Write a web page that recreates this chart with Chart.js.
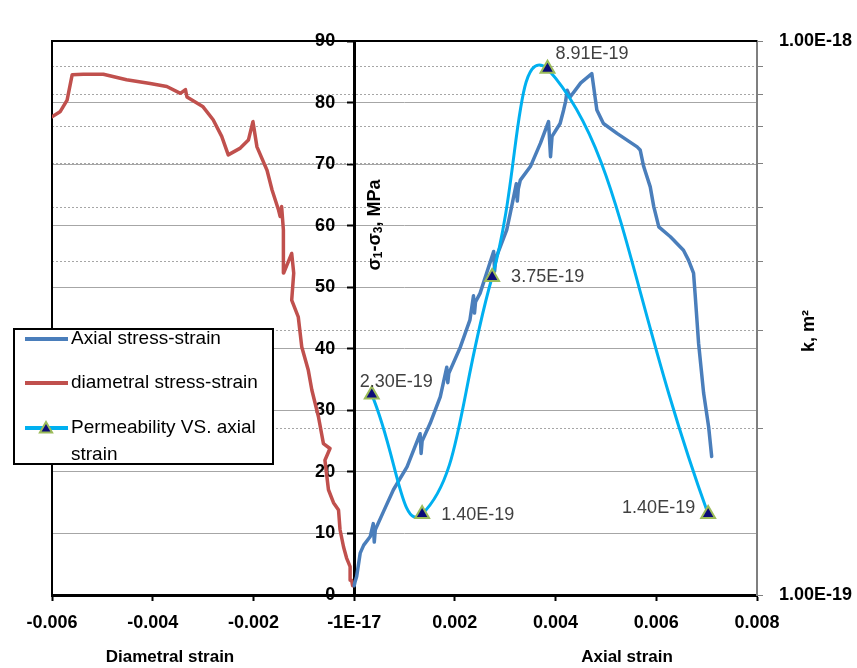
<!DOCTYPE html>
<html>
<head>
<meta charset="utf-8">
<script src="https://cdn.jsdelivr.net/npm/chart.js@4.4.0/dist/chart.umd.min.js"></script>
<style>
  html, body { margin: 0; padding: 0; background: #fff; }
</style>
</head>
<body>
<canvas id="chart" width="857" height="668"></canvas>
<script>
// axial stress-strain curve (strain, MPa)
const axialStrain = [0, 0.00002, 0.00005, 0.00012, 0.00019, 0.00032, 0.00038, 0.0004, 0.00042,
  0.00058, 0.00078, 0.00105, 0.00131, 0.00133, 0.00135, 0.00151, 0.00171, 0.00184, 0.00186, 0.00188,
  0.00211, 0.0023, 0.00237, 0.00239, 0.00241, 0.0025, 0.00277, 0.00279, 0.00281, 0.00303, 0.0031,
  0.00322, 0.00324, 0.00326, 0.0033, 0.0035, 0.0037, 0.00386, 0.0039, 0.00393, 0.00409, 0.00416,
  0.0042, 0.00423, 0.00429, 0.0045, 0.00472, 0.00482, 0.00495, 0.00522, 0.00562, 0.00568, 0.00575,
  0.00588, 0.00595, 0.00605, 0.00628, 0.00654, 0.00664, 0.00674, 0.00677, 0.00684, 0.00694, 0.00704, 0.0071];
const axialStress = [1.5, 2.2, 3.0, 6.8, 8.1, 9.5, 11.6, 8.6, 10.6,
  13.5, 17.1, 20.8, 26.2, 23.0, 25.0, 27.9, 32.2, 37.0, 34.5, 36.0,
  40.3, 44.7, 48.6, 45.8, 47.6, 49.0, 55.8, 52.6, 54.6, 59.3, 62.0,
  66.8, 64.0, 66.0, 67.4, 69.6, 73.4, 76.9, 71.2, 74.5, 76.6, 78.8,
  80.2, 82.0, 80.9, 83.2, 84.7, 78.8, 76.6, 75.0, 72.8, 72.3, 69.6,
  66.3, 63.1, 59.8, 58.2, 56.0, 54.4, 52.3, 49.0, 40.9, 32.8, 27.3, 22.5];

// diametral stress-strain curve (strain, MPa)
const diametralStrain = [-0.00003, -0.00005, -0.00008, -0.00008, -0.00015, -0.00021, -0.00028, -0.00031,
  -0.00041, -0.00051, -0.00058, -0.00048, -0.00061, -0.00071, -0.00084, -0.00091, -0.00104, -0.00111,
  -0.00124, -0.0012, -0.00124, -0.0014, -0.00141, -0.0014, -0.00144, -0.00147, -0.0015, -0.00163,
  -0.00173, -0.00193, -0.00201, -0.0021, -0.00226, -0.0025, -0.00263, -0.0028, -0.003, -0.00332,
  -0.00335, -0.00345, -0.00372, -0.00405, -0.00452, -0.00498, -0.00538, -0.0056, -0.0057, -0.00584, -0.006];
const diametralStress = [1.5, 2.4, 2.4, 4.6, 6.0, 7.8, 10.6, 13.8,
  15.0, 17.1, 21.9, 23.8, 24.6, 29.0, 33.3, 36.5, 40.3, 45.2,
  47.9, 52.3, 55.5, 52.3, 57.0, 59.3, 63.1, 61.5, 62.5, 65.8,
  69.0, 72.8, 76.9, 73.9, 72.6, 71.5, 74.5, 77.2, 79.3, 80.9,
  82.1, 81.5, 82.6, 83.1, 83.7, 84.6, 84.6, 84.5, 80.4, 78.5, 77.7];

// permeability measurements (strain, m2)
const permStrain = [0.00035, 0.00135, 0.00274, 0.00384, 0.00703];
const permK = [2.30e-19, 1.40e-19, 3.75e-19, 8.91e-19, 1.40e-19];

// axis ticks
const xTickValues = [-0.006, -0.004, -0.002, 0, 0.002, 0.004, 0.006, 0.008];
const xTickLabels = ['-0.006', '-0.004', '-0.002', '-1E-17', '0.002', '0.004', '0.006', '0.008'];
const kTickValues = [1e-19, 2e-19, 3e-19, 4e-19, 5e-19, 6e-19, 7e-19, 8e-19, 9e-19, 1e-18];
const kTickLabels = ['1.00E-19', '', '', '', '', '', '', '', '', '1.00E-18'];

const FONT = '"Liberation Sans", Arial, sans-serif';
const AXIAL_COLOR = '#4A7EBB';
const DIAM_COLOR = '#C0504D';
const PERM_COLOR = '#00B0F0';
const MARK_FILL = '#0C0C78';
const MARK_EDGE = '#9BBB59';

// where each permeability value label sits relative to its marker
const permLabelPlace = [
  { dx: -12, dy: -13, align: 'left' },
  { dx: 19, dy: 1, align: 'left' },
  { dx: 19, dy: 0, align: 'left' },
  { dx: 8, dy: -15, align: 'left' },
  { dx: -13, dy: -6, align: 'right' }
];

const pairs = (xs, ys) => xs.map((x, i) => ({ x: x, y: ys[i] }));

function triangle(ctx, x, y, r) {
  ctx.beginPath();
  ctx.moveTo(x, y - r);
  ctx.lineTo(x + r * 0.87, y + r * 0.5);
  ctx.lineTo(x - r * 0.87, y + r * 0.5);
  ctx.closePath();
  ctx.fillStyle = MARK_FILL;
  ctx.fill();
  ctx.lineWidth = 2;
  ctx.strokeStyle = MARK_EDGE;
  ctx.stroke();
}

// text drawn in pieces so subscripts can be lowered
function drawPieces(ctx, pieces, cx, cy) {
  let total = 0;
  pieces.forEach(p => {
    ctx.font = p.font;
    total += ctx.measureText(p.t).width;
  });
  let x = cx - total / 2;
  pieces.forEach(p => {
    ctx.font = p.font;
    ctx.fillText(p.t, x, cy + (p.dy || 0));
    x += ctx.measureText(p.t).width;
  });
}

// the stress axis sits at strain 0; its labels need to clear the tick marks
function shiftStressLabels(scale) {
  if (scale._labelsShifted) return;
  const compute = scale._computeLabelItems;
  scale._computeLabelItems = function (area) {
    const items = compute.call(this, area);
    items.forEach(it => { it.options.translation[0] -= 19; });
    return items;
  };
  scale._labelsShifted = true;
}

const overlay = {
  id: 'overlay',
  beforeDatasetsDraw(chart) {
    const { ctx, chartArea: a } = chart;
    ctx.save();
    ctx.strokeStyle = '#000';
    ctx.lineWidth = 2;
    ctx.beginPath();
    ctx.moveTo(a.left, a.bottom);
    ctx.lineTo(a.left, a.top);
    ctx.lineTo(a.right, a.top);
    ctx.stroke();
    ctx.restore();
  },
  afterDatasetsDraw(chart) {
    const { ctx } = chart;
    const meta = chart.getDatasetMeta(2);
    ctx.save();
    ctx.font = '18px ' + FONT;
    ctx.fillStyle = '#404040';
    ctx.textBaseline = 'middle';
    meta.data.forEach((pt, i) => {
      const place = permLabelPlace[i];
      ctx.textAlign = place.align;
      ctx.fillText(permK[i].toExponential(2).toUpperCase(), pt.x + place.dx, pt.y + place.dy);
    });
    ctx.restore();
  },
  afterDraw(chart) {
    const { ctx } = chart;
    ctx.save();
    ctx.fillStyle = '#000';
    ctx.textBaseline = 'middle';
    ctx.textAlign = 'center';

    // axis titles
    ctx.font = 'bold 17px ' + FONT;
    ctx.fillText('Diametral strain', 170, 657);
    ctx.fillText('Axial strain', 627, 657);

    ctx.save();
    ctx.translate(375, 225);
    ctx.rotate(-Math.PI / 2);
    ctx.textAlign = 'left';
    const big = 'bold 18px ' + FONT;
    const small = 'bold 12px ' + FONT;
    drawPieces(ctx, [
      { t: 'σ', font: big }, { t: '1', font: small, dy: 4 },
      { t: '-σ', font: big }, { t: '3', font: small, dy: 4 },
      { t: ', MPa', font: big }
    ], 0, 0);
    ctx.restore();

    ctx.save();
    ctx.translate(809, 331);
    ctx.rotate(-Math.PI / 2);
    ctx.font = 'bold 18px ' + FONT;
    ctx.fillText('k, m²', 0, 0);
    ctx.restore();

    // legend
    const sets = chart.data.datasets;
    ctx.fillStyle = '#fff';
    ctx.fillRect(14, 329, 259, 135);
    ctx.strokeStyle = '#000';
    ctx.lineWidth = 2;
    ctx.strokeRect(14, 329, 259, 135);
    const rows = [339, 383, 428];
    rows.forEach((y, i) => {
      ctx.strokeStyle = sets[i].borderColor;
      ctx.lineWidth = 4;
      ctx.beginPath();
      ctx.moveTo(25, y);
      ctx.lineTo(68, y);
      ctx.stroke();
    });
    triangle(ctx, 46, 429, 7);
    ctx.textAlign = 'left';
    ctx.font = '19px ' + FONT;
    ctx.fillStyle = '#000';
    ctx.fillText('Axial stress-strain', 71, 339);
    ctx.fillText('diametral stress-strain', 71, 383);
    ctx.fillText('Permeability VS. axial', 71, 428);
    ctx.fillText('strain', 71, 455);
    ctx.restore();
  }
};

new Chart(document.getElementById('chart'), {
  type: 'scatter',
  data: {
    datasets: [
      {
        label: 'Axial stress-strain',
        data: pairs(axialStrain, axialStress),
        showLine: true,
        borderColor: AXIAL_COLOR,
        borderWidth: 3.5,
        pointRadius: 0,
        borderJoinStyle: 'round',
        borderCapStyle: 'round',
        yAxisID: 'y',
        order: 1
      },
      {
        label: 'diametral stress-strain',
        data: pairs(diametralStrain, diametralStress),
        showLine: true,
        borderColor: DIAM_COLOR,
        borderWidth: 3.5,
        pointRadius: 0,
        borderJoinStyle: 'round',
        borderCapStyle: 'round',
        yAxisID: 'y',
        order: 2
      },
      {
        label: 'Permeability VS. axial strain',
        data: pairs(permStrain, permK),
        showLine: true,
        borderColor: PERM_COLOR,
        borderWidth: 3,
        tension: 0.5,
        pointStyle: 'triangle',
        pointRadius: 8,
        pointBackgroundColor: MARK_FILL,
        pointBorderColor: MARK_EDGE,
        pointBorderWidth: 2,
        yAxisID: 'y2',
        order: 0
      }
    ]
  },
  options: {
    responsive: false,
    animation: false,
    layout: { padding: { left: 52, top: 41, right: 0, bottom: 0 } },
    plugins: { legend: { display: false }, tooltip: { enabled: false } },
    scales: {
      x: {
        type: 'linear',
        position: 'bottom',
        min: -0.006,
        max: 0.008,
        afterBuildTicks: s => { s.ticks = xTickValues.map(v => ({ value: v })); },
        afterFit: s => { s.height = 73; },
        ticks: {
          callback: (v, i) => xTickLabels[i],
          font: { family: FONT, size: 18, weight: 'bold' },
          color: '#000',
          padding: 11,
          maxRotation: 0,
          autoSkip: false
        },
        grid: { drawOnChartArea: false, tickLength: 6, tickColor: '#000', tickWidth: 2 },
        border: { color: '#000', width: 3 }
      },
      y: {
        type: 'linear',
        position: { x: 0 },
        min: 0,
        max: 90,
        afterUpdate: shiftStressLabels,
        ticks: {
          stepSize: 10,
          font: { family: FONT, size: 18, weight: 'bold' },
          color: '#000'
        },
        grid: { color: '#A6A6A6', lineWidth: 1, tickLength: 6, tickColor: '#000', tickWidth: 2 },
        border: { color: '#000', width: 3 }
      },
      y2: {
        type: 'logarithmic',
        position: 'right',
        min: 1e-19,
        max: 1e-18,
        afterBuildTicks: s => { s.ticks = kTickValues.map(v => ({ value: v })); },
        afterFit: s => { s.width = 100; },
        ticks: {
          callback: (v, i) => kTickLabels[i],
          font: { family: FONT, size: 18, weight: 'bold' },
          color: '#000',
          padding: 16,
          autoSkip: false
        },
        grid: { color: '#A6A6A6', lineWidth: 1, tickLength: 6, tickColor: '#808080', tickWidth: 1, tickBorderDash: [] },
        border: { color: '#7F7F7F', width: 2, dash: [2, 2] }
      }
    }
  },
  plugins: [overlay]
});
</script>
</body>
</html>
